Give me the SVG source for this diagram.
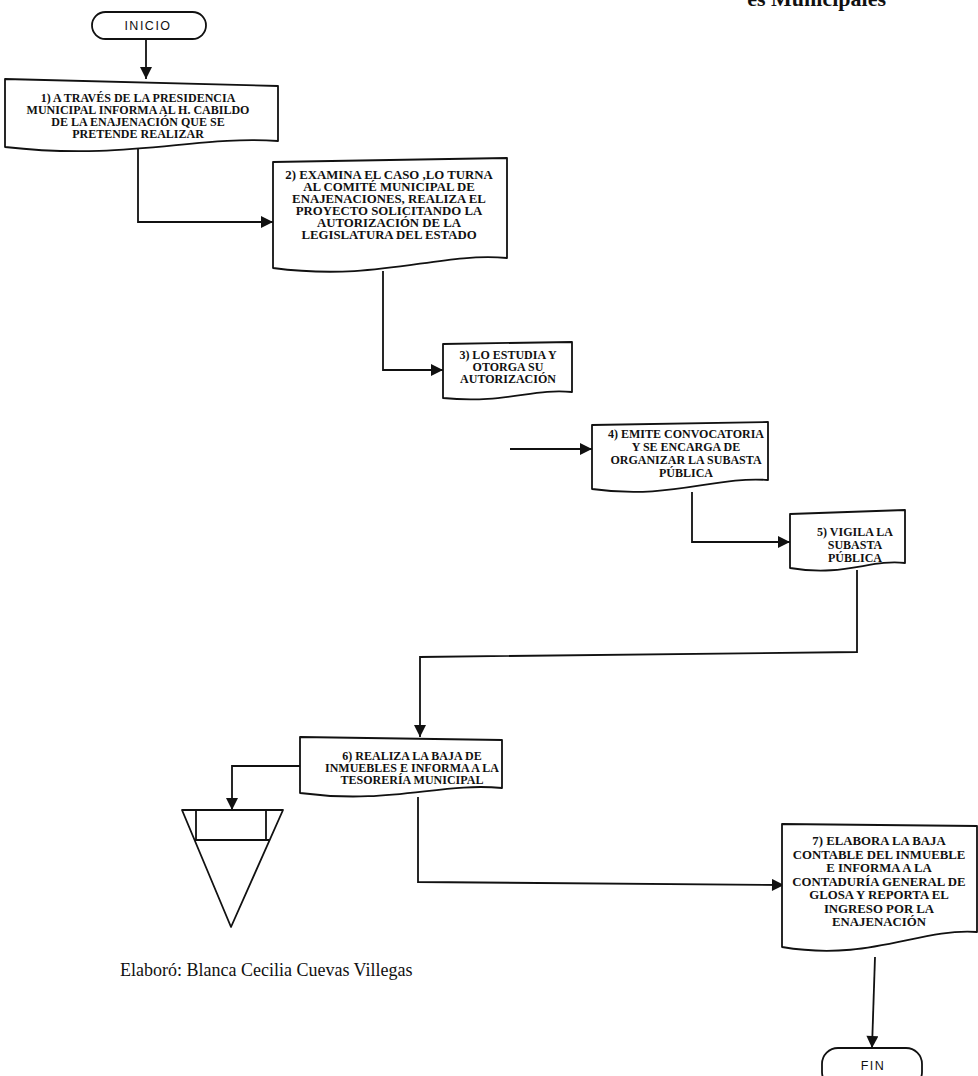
<svg xmlns="http://www.w3.org/2000/svg" width="978" height="1076" viewBox="0 0 978 1076">
<style>
.bg{fill:#ffffff}
.shape{fill:#ffffff;stroke:#111;stroke-width:1.8;stroke-linejoin:round}
.line{fill:none;stroke:#111;stroke-width:1.8}
.t{font-family:"Liberation Serif","Times New Roman",serif;font-weight:bold;font-size:12px;fill:#111;text-anchor:middle}
.t2{font-size:12.8px}
.t7{font-size:12.8px}
.term{font-family:"Liberation Sans",Arial,sans-serif;font-size:12.5px;letter-spacing:1.5px;fill:#111;text-anchor:middle}
.sig{font-family:"Liberation Serif","Times New Roman",serif;font-size:18px;fill:#111}
.hdr{font-family:"Liberation Serif","Times New Roman",serif;font-weight:bold;font-size:22px;fill:#111;text-anchor:end}
</style>
<defs>
<marker id="ah" viewBox="0 0 10 10" refX="10" refY="5" markerWidth="14" markerHeight="12" markerUnits="userSpaceOnUse" orient="auto">
<path d="M0,0 L10,5 L0,10 Z" fill="#111"/>
</marker>
</defs>
<rect class="bg" x="0" y="0" width="978" height="1076"/>
<text class="hdr" x="886" y="6">es Municipales</text>

<g id="connectors">
<path class="line" d="M146,39 L146,79" marker-end="url(#ah)"/>
<path class="line" d="M138,149 L138,222 L273,222" marker-end="url(#ah)"/>
<path class="line" d="M383,271 L383,370 L443,370" marker-end="url(#ah)"/>
<path class="line" d="M510,449 L592,449" marker-end="url(#ah)"/>
<path class="line" d="M692,492 L692,542 L790,542" marker-end="url(#ah)"/>
<path class="line" d="M857,570 L857,652 L420,657 L420,737" marker-end="url(#ah)"/>
<path class="line" d="M300,766 L232,766 L232,810" marker-end="url(#ah)"/>
<path class="line" d="M418,797 L418,882 L784,885" marker-end="url(#ah)"/>
<path class="line" d="M875,957 L872,1048" marker-end="url(#ah)"/>
</g>

<g id="inicio">
<rect class="shape" x="92" y="12" width="114" height="27" rx="13.5" ry="13.5"/>
<text class="term" x="148" y="30">INICIO</text>
</g>

<g id="step1">
<path class="shape" d="M5,79 L278,86 L278,141 C196,135 128,161 5,147 Z"/>
<text class="t" x="138" y="102">1) A TRAVÉS DE LA PRESIDENCIA</text>
<text class="t" x="138" y="114">MUNICIPAL INFORMA AL H. CABILDO</text>
<text class="t" x="138" y="126">DE LA ENAJENACIÓN QUE SE</text>
<text class="t" x="138" y="138">PRETENDE REALIZAR</text>
</g>

<g id="step2">
<path class="shape" d="M273,162 L507,158 L507,258 C437,252 380,282 273,268 Z"/>
<text class="t t2" x="389" y="179">2) EXAMINA EL CASO ,LO TURNA</text>
<text class="t t2" x="389" y="191">AL COMITÉ MUNICIPAL DE</text>
<text class="t t2" x="389" y="203">ENAJENACIONES, REALIZA EL</text>
<text class="t t2" x="389" y="215">PROYECTO SOLICITANDO LA</text>
<text class="t t2" x="389" y="227">AUTORIZACIÓN DE LA</text>
<text class="t t2" x="389" y="239">LEGISLATURA DEL ESTADO</text>
</g>

<g id="step3">
<path class="shape" d="M443,344 L572,342 L572,392 C533,388 505,404 443,398 Z"/>
<text class="t" x="508" y="359">3) LO ESTUDIA Y</text>
<text class="t" x="508" y="371">OTORGA SU</text>
<text class="t" x="508" y="383">AUTORIZACIÓN</text>
</g>

<g id="step4">
<path class="shape" d="M592,425 L768,422 L768,480 C715,476 670,500 592,489 Z"/>
<text class="t" x="686" y="438">4) EMITE CONVOCATORIA</text>
<text class="t" x="686" y="451">Y SE ENCARGA DE</text>
<text class="t" x="686" y="464">ORGANIZAR LA SUBASTA</text>
<text class="t" x="686" y="477">PÚBLICA</text>
</g>

<g id="step5">
<path class="shape" d="M790,514 L905,510 L905,563 C870,559 845,577 790,568 Z"/>
<text class="t" x="855" y="536">5) VIGILA LA</text>
<text class="t" x="855" y="549">SUBASTA</text>
<text class="t" x="855" y="562">PÚBLICA</text>
</g>

<g id="step6">
<path class="shape" d="M300,737 L502,740 L502,788 C441,782 390,805 300,793 Z"/>
<text class="t" x="412" y="760">6) REALIZA LA BAJA DE</text>
<text class="t" x="412" y="772">INMUEBLES E INFORMA A LA</text>
<text class="t" x="412" y="784">TESORERÍA MUNICIPAL</text>
</g>

<g id="archivo">
<path class="shape" d="M182,810 L283,810 L231,927 Z"/>
<path class="line" d="M196,810 L196,840 M266,810 L266,840 M194,840 L269,840"/>
</g>

<g id="step7">
<path class="shape" d="M782,824 L977,826 L977,932 C918,928 870,962 782,947 Z"/>
<text class="t t7" x="879" y="845">7) ELABORA LA BAJA</text>
<text class="t t7" x="879" y="858.5">CONTABLE DEL INMUEBLE</text>
<text class="t t7" x="879" y="872">E INFORMA A LA</text>
<text class="t t7" x="879" y="885.5">CONTADURÍA GENERAL DE</text>
<text class="t t7" x="879" y="899">GLOSA Y REPORTA EL</text>
<text class="t t7" x="879" y="912.5">INGRESO POR LA</text>
<text class="t t7" x="879" y="926">ENAJENACIÓN</text>
</g>

<g id="fin">
<rect class="shape" x="822" y="1048" width="100" height="40" rx="16" ry="16"/>
<text class="term" x="873" y="1070">FIN</text>
</g>

<text class="sig" x="120" y="976">Elaboró: Blanca Cecilia Cuevas Villegas</text>
</svg>
